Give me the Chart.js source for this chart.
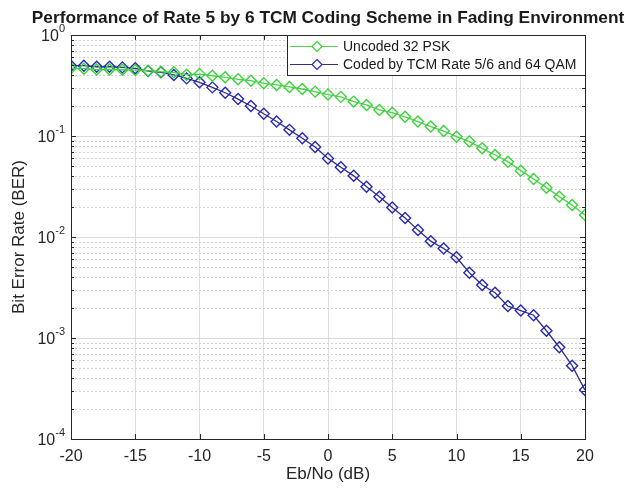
<!DOCTYPE html>
<html>
<head>
<meta charset="utf-8">
<script src="https://cdn.jsdelivr.net/npm/chart.js@4"></script>
<style>
html, body { margin: 0; padding: 0; background: #fff; }
</style>
</head>
<body>
<canvas id="berChart" width="630" height="491"></canvas>
<script>
// Eb/No axis (dB)
const ebno = [-20, -19, -18, -17, -16, -15, -14, -13, -12, -11, -10, -9, -8, -7, -6, -5, -4, -3, -2, -1,
  0, 1, 2, 3, 4, 5, 6, 7, 8, 9, 10, 11, 12, 13, 14, 15, 16, 17, 18, 19, 20];

// BER, uncoded 32 PSK
const uncoded = [0.468, 0.464, 0.455, 0.456, 0.453, 0.450, 0.443, 0.433, 0.427, 0.405,
  0.410, 0.395, 0.381, 0.364, 0.353, 0.332, 0.320, 0.306, 0.292, 0.275,
  0.257, 0.244, 0.219, 0.203, 0.181, 0.170, 0.155, 0.139, 0.124, 0.112,
  0.0985, 0.088, 0.0755, 0.0648, 0.0557, 0.0454, 0.0375, 0.0308, 0.0251, 0.0207, 0.0165];

// BER, TCM rate 5/6 + 64 QAM
const coded = [0.497, 0.497, 0.485, 0.485, 0.478, 0.468, 0.440, 0.427, 0.402, 0.372,
  0.340, 0.303, 0.268, 0.232, 0.198, 0.166, 0.139, 0.115, 0.095, 0.078,
  0.060, 0.049, 0.0403, 0.0315, 0.025, 0.0196, 0.0154, 0.0117, 0.0091, 0.0077,
  0.0063, 0.00443, 0.00335, 0.00281, 0.00207, 0.00187, 0.00168, 0.00118, 0.00081, 0.000532, 0.000305];

const xTicks = [-20, -15, -10, -5, 0, 5, 10, 15, 20];
const yTicks = [1, 0.1, 0.01, 0.001, 0.0001];
const yTickExps = ['0', '-1', '-2', '-3', '-4'];
const seriesNames = ['Uncoded 32 PSK', 'Coded by TCM Rate 5/6 and 64 QAM'];
const chartTitle = 'Performance of Rate 5 by 6 TCM Coding Scheme in Fading Environment';

const greenLine = '#4fd04f', greenMark = '#38d438';
const blueLine = '#30307e', blueMark = '#2828b8';
const FONT = '"Liberation Sans", Arial, sans-serif';

// minor grid, inner ticks, box, superscript labels, title and legend (MATLAB look)
const matlabFrame = {
  id: 'matlabFrame',
  beforeDatasetsDraw(chart) {
    const { ctx, chartArea: a, scales: { y } } = chart;
    ctx.save();
    ctx.strokeStyle = '#d2d2d2';
    ctx.lineWidth = 1;
    ctx.setLineDash([2, 2]);
    for (let e = -4; e < 0; e++) {
      for (let k = 2; k <= 9; k++) {
        const py = Math.round(y.getPixelForValue(k * Math.pow(10, e))) + 0.5;
        ctx.beginPath(); ctx.moveTo(a.left, py); ctx.lineTo(a.right, py); ctx.stroke();
      }
    }
    ctx.restore();
  },
  afterDatasetsDraw(chart) {
    const { ctx, chartArea: a, scales: { x, y } } = chart;
    ctx.save();
    ctx.strokeStyle = '#262626';
    ctx.lineWidth = 1;
    // inner ticks
    ctx.beginPath();
    xTicks.forEach(v => {
      const px = Math.round(x.getPixelForValue(v)) + 0.5;
      ctx.moveTo(px, a.bottom); ctx.lineTo(px, a.bottom - 5);
      ctx.moveTo(px, a.top); ctx.lineTo(px, a.top + 5);
    });
    for (let e = -4; e <= 0; e++) {
      for (let k = 1; k <= (e === 0 ? 1 : 9); k++) {
        const len = k === 1 ? 5 : 3;
        const py = Math.round(y.getPixelForValue(k * Math.pow(10, e))) + 0.5;
        ctx.moveTo(a.left, py); ctx.lineTo(a.left + len, py);
        ctx.moveTo(a.right, py); ctx.lineTo(a.right - len, py);
      }
    }
    ctx.stroke();
    // box
    ctx.strokeRect(Math.round(a.left) + 0.5, Math.round(a.top) + 0.5,
      Math.round(a.right - a.left), Math.round(a.bottom - a.top));

    // title, centred over the axes
    ctx.fillStyle = '#1a1a1a';
    ctx.font = 'bold 17.3px ' + FONT;
    ctx.textAlign = 'center';
    ctx.textBaseline = 'middle';
    ctx.fillText(chartTitle, (a.left + a.right) / 2, 18);

    // y tick labels 10^n
    ctx.fillStyle = '#262626';
    ctx.textAlign = 'right';
    yTicks.forEach((v, i) => {
      const py = y.getPixelForValue(v);
      ctx.font = '11px ' + FONT;
      const ew = ctx.measureText(yTickExps[i]).width;
      const ex = a.left - 6;
      ctx.fillText(yTickExps[i], ex, py - 6);
      ctx.font = '16px ' + FONT;
      ctx.fillText('10', ex - ew, py + 2);
    });

    // legend
    const lx = Math.round(a.right) - 298, ly = Math.round(a.top) + 0.5, lw = 298, lh = 40;
    ctx.fillStyle = '#fff';
    ctx.fillRect(lx + 0.5, ly, lw, lh);
    ctx.strokeStyle = '#262626';
    ctx.strokeRect(lx + 0.5, ly, lw, lh);
    ctx.font = '14px ' + FONT;
    ctx.textAlign = 'left';
    const ds = chart.data.datasets;
    [11, 29].forEach((dy, i) => {
      const yy = ly + dy;
      ctx.lineWidth = 1.2;
      ctx.strokeStyle = ds[i].borderColor;
      ctx.beginPath(); ctx.moveTo(lx + 3, yy); ctx.lineTo(lx + 51, yy); ctx.stroke();
      ctx.strokeStyle = ds[i].pointBorderColor;
      ctx.fillStyle = '#fff';
      ctx.beginPath();
      ctx.moveTo(lx + 30, yy - 5); ctx.lineTo(lx + 35, yy); ctx.lineTo(lx + 30, yy + 5); ctx.lineTo(lx + 25, yy);
      ctx.closePath(); ctx.fill(); ctx.stroke();
      ctx.fillStyle = '#1a1a1a';
      ctx.fillText(seriesNames[i], lx + 56, yy + 1);
    });
    ctx.restore();
  }
};

const ctx = document.getElementById('berChart').getContext('2d');
const berChart = new Chart(ctx, {
  type: 'line',
  data: {
    datasets: [{
      label: seriesNames[0],
      data: ebno.map((v, i) => ({ x: v, y: uncoded[i] })),
      borderColor: greenLine,
      borderWidth: 1.3,
      pointStyle: 'rectRot',
      pointRadius: 5.5,
      pointBorderColor: greenMark,
      pointBackgroundColor: 'rgba(255,255,255,0)',
      pointBorderWidth: 1.4,
      tension: 0
    }, {
      label: seriesNames[1],
      data: ebno.map((v, i) => ({ x: v, y: coded[i] })),
      borderColor: blueLine,
      borderWidth: 1.3,
      pointStyle: 'rectRot',
      pointRadius: 5.5,
      pointBorderColor: blueMark,
      pointBackgroundColor: 'rgba(255,255,255,0)',
      pointBorderWidth: 1.4,
      tension: 0
    }]
  },
  options: {
    responsive: false,
    animation: false,
    devicePixelRatio: 1,
    layout: { padding: { left: 0, right: 45, top: 35, bottom: 0 } },
    plugins: {
      legend: { display: false },
      tooltip: { enabled: false },
      title: { display: false }
    },
    scales: {
      x: {
        type: 'linear',
        min: -20,
        max: 20,
        afterBuildTicks: s => { s.ticks = xTicks.map(v => ({ value: v })); },
        afterFit: s => { s.height = 52; },
        grid: { color: '#dcdcdc', drawTicks: false },
        border: { display: false },
        ticks: { color: '#262626', font: { family: FONT, size: 16 }, padding: 8, maxRotation: 0 },
        title: {
          display: true,
          text: 'Eb/No (dB)',
          color: '#262626',
          font: { family: FONT, size: 17 },
          padding: { top: 0, bottom: 6 }
        }
      },
      y: {
        type: 'logarithmic',
        min: 0.0001,
        max: 1,
        afterBuildTicks: s => { s.ticks = yTicks.map(v => ({ value: v })); },
        afterFit: s => { s.width = 71; },
        grid: { color: '#dcdcdc', drawTicks: false },
        border: { display: false },
        ticks: { display: false },
        title: {
          display: true,
          text: 'Bit Error Rate (BER)',
          color: '#262626',
          font: { family: FONT, size: 17 },
          padding: { top: 9, bottom: 0 }
        }
      }
    }
  },
  plugins: [matlabFrame]
});
</script>
</body>
</html>
